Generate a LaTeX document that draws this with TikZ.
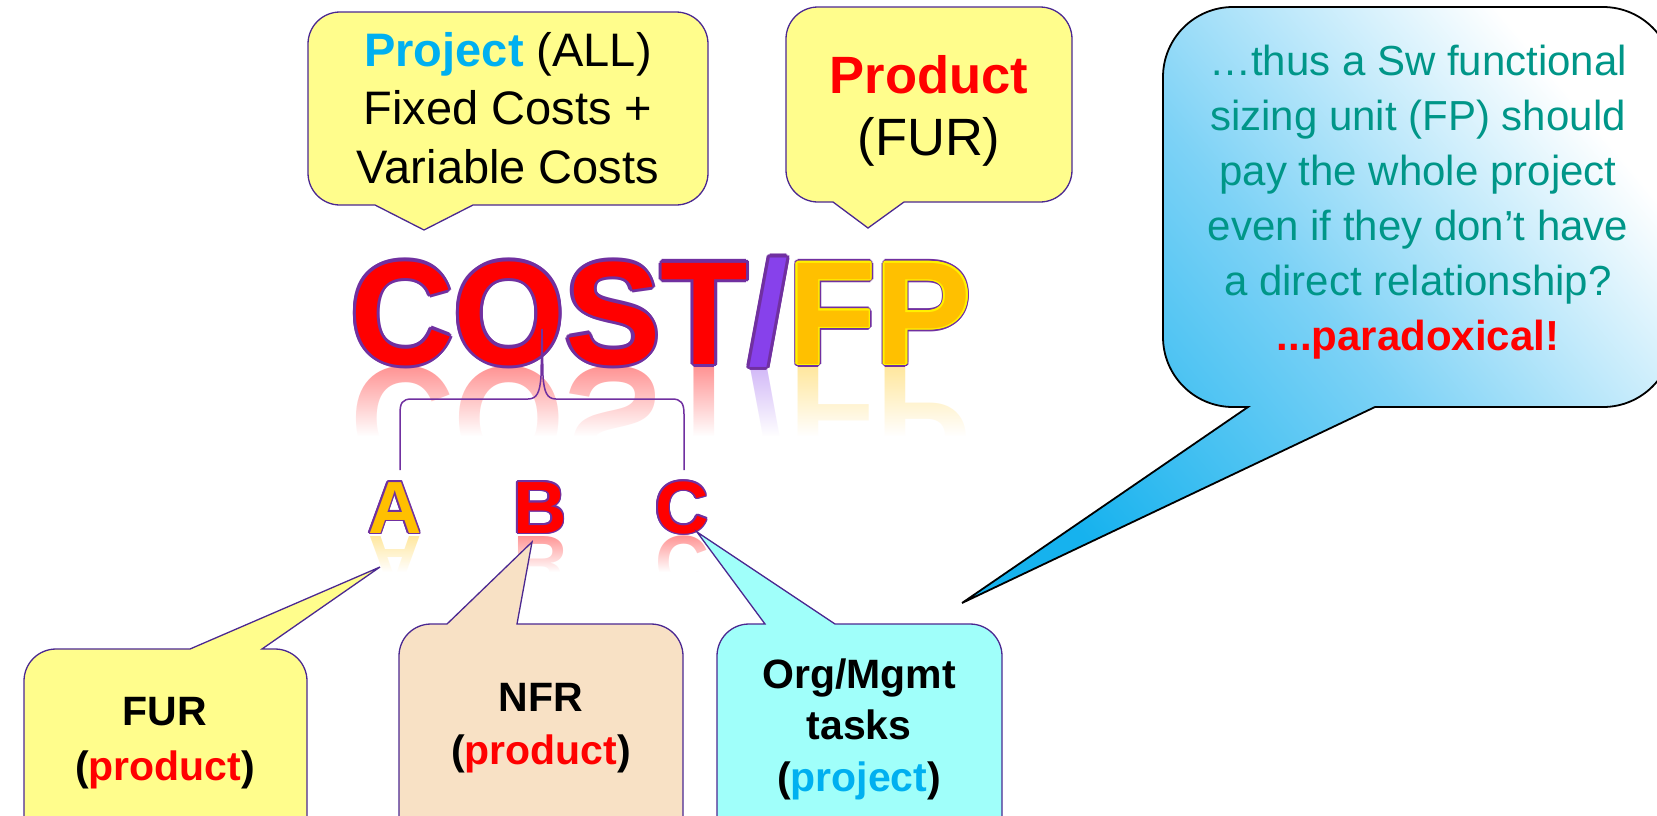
\documentclass[tikz,border=0pt]{standalone}
\usepackage{fontspec}
\setmainfont{Liberation Sans}
\usetikzlibrary{calc,fadings}

\definecolor{edge}{RGB}{75,40,145}
\definecolor{wapurple}{RGB}{112,48,160}
\definecolor{slashfill}{RGB}{135,65,235}
\definecolor{slashedge}{RGB}{85,30,150}
\definecolor{fporange}{RGB}{255,192,0}
\definecolor{pblue}{RGB}{0,176,240}
\definecolor{tealtxt}{RGB}{0,150,136}
\definecolor{notey}{RGB}{255,253,140}
\definecolor{notepeach}{RGB}{248,225,197}
\definecolor{notecyan}{RGB}{160,255,250}
\definecolor{skyA}{RGB}{22,178,238}
\definecolor{skyB}{RGB}{125,210,246}

% fade used to dissolve the mirrored letters into the page
\tikzfading[name=reflfade, top color=transparent!85, bottom color=transparent!0]

% rounded box with a pointer on its lower edge:
% x1 y1 x2 y2 radius, pointer base left/right, pointer tip x y
\newcommand{\calloutB}[9]{(#1,#2+#5) arc[start angle=180,end angle=270,radius=#5]
  -- (#3-#5,#2) arc[start angle=270,end angle=360,radius=#5]
  -- (#3,#4-#5) arc[start angle=0,end angle=90,radius=#5]
  -- (#7,#4) -- (#8,#9) -- (#6,#4)
  -- (#1+#5,#4) arc[start angle=90,end angle=180,radius=#5] -- cycle}
% same with the pointer on the upper edge
\newcommand{\calloutT}[9]{(#1,#2+#5) arc[start angle=180,end angle=270,radius=#5]
  -- (#6,#2) -- (#8,#9) -- (#7,#2)
  -- (#3-#5,#2) arc[start angle=270,end angle=360,radius=#5]
  -- (#3,#4-#5) arc[start angle=0,end angle=90,radius=#5]
  -- (#1+#5,#4) arc[start angle=90,end angle=180,radius=#5] -- cycle}
% ring of offset copies giving letters an outline
% #1 node options, #2 point, #3 offset, #4 colour, #5 text, #6 name prefix
\newcommand{\ringtext}[6]{\foreach \k in {0,30,...,330}{%
  \node[inner sep=0,text=#4,#1] (#6\k) at ($#2+(\k:#3)$) {#5};}}

\tikzset{
  bubble/.style={draw=edge, line width=1.3},
  txt/.style={align=center, inner sep=0, anchor=base},
  brace/.style={draw=wapurple, line width=1.5},
}

\begin{document}
\begin{tikzpicture}[x=1pt, y=-1pt]
\useasboundingbox (0,0) rectangle (1657,815);
\clip (0,0) rectangle (1657,815);

\def\bigfont{\fontsize{147}{147}\selectfont\bfseries}
\def\letfont{\fontsize{74}{74}\selectfont\bfseries}

% ---- mirrored letters (reflections) ----
\node[inner sep=0, anchor=base west, font=\bigfont] (wordrefl) at (350,367)
  {\scalebox{0.975}[-1]{\textcolor{red!50}{COST}\textcolor{slashfill!45}{/}\textcolor{fporange!45}{FP}}};
\fill[white, path fading=reflfade] (335,366) rectangle (990,436);
\fill[white] (335,436) rectangle (990,478);

\node[inner sep=0, anchor=base, font=\letfont, text=fporange!45] (Arefl) at (395,536) {\scalebox{1}[-1]{A}};
\node[inner sep=0, anchor=base, font=\letfont, text=red!50] (Brefl) at (540,536) {\scalebox{1}[-1]{B}};
\node[inner sep=0, anchor=base, font=\letfont, text=red!50] (Crefl) at (682,536) {\scalebox{1}[-1]{C}};
\fill[white, path fading=reflfade] (355,535) rectangle (720,572);
\fill[white] (355,572) rectangle (720,600);

% ---- COST/FP word ----
\ringtext{anchor=base west,font=\bigfont}{(350,364)}{3.2}{wapurple}{\scalebox{0.975}[1]{COST/FP}}{wo}
\ringtext{anchor=base west,font=\bigfont}{(350,364)}{1.8}{yellow}{\scalebox{0.975}[1]{\phantom{COST/}FP}}{wy}
\node[inner sep=0, anchor=base west, font=\bigfont] (word) at (350,364)
  {\scalebox{0.975}[1]{\textcolor{red}{COST}\textcolor{slashfill}{/}\textcolor{fporange}{FP}}};

% ---- letters A B C ----
\ringtext{anchor=base,font=\letfont}{(395,533)}{1.6}{wapurple}{A}{ao}
\ringtext{anchor=base,font=\letfont}{(540,533)}{1.6}{wapurple}{B}{bo}
\ringtext{anchor=base,font=\letfont}{(682,533)}{1.6}{wapurple}{C}{co}
\node[inner sep=0, anchor=base, font=\letfont, text=fporange] (A) at (395,533) {A};
\node[inner sep=0, anchor=base, font=\letfont, text=red] (B) at (540,533) {B};
\node[inner sep=0, anchor=base, font=\letfont, text=red] (C) at (682,533) {C};

% ---- brace from A and C up into COST ----
\coordinate (brL) at (400,470);
\coordinate (brR) at (684,470);
\coordinate (brTip) at (542,329);
\draw[brace] (brL) -- (400,414) .. controls (400,403) and (402,399) .. (412,399)
  -- (528,399) .. controls (537,399) and (540,392) .. (541,376) -- (brTip)
  -- (543,376) .. controls (544,392) and (547,399) .. (556,399)
  -- (672,399) .. controls (681,399) and (684,403) .. (684,414) -- (brR);

% ---- upper callouts ----
\draw[bubble, fill=notey] \calloutB{308}{12}{708}{205}{32}{375}{473}{424}{230};
\draw[bubble, fill=notey] \calloutB{786}{7}{1072}{202}{32}{833}{904}{868}{228};

% multi-line nodes are anchored at the baseline of their last line
\node[txt, font=\fontsize{47}{58.5}\selectfont] (projtxt) at (508,183)
  {\textbf{\textcolor{pblue}{Project}} (ALL)\\Fixed Costs +\\Variable Costs};
\node[txt, font=\fontsize{52.5}{62}\selectfont] (prodtxt) at (929,155)
  {\textbf{\textcolor{red}{Product}}\\(FUR)};

% ---- large question callout ----
\shade[draw=black, line width=1.8, bottom color=skyA, top color=white, middle color=skyB, shading angle=-50]
  \calloutB{1163}{7}{1673}{407}{70}{1248}{1375}{962}{603};
\node[txt, font=\fontsize{42}{55}\selectfont, text=tealtxt] (note) at (1418,350)
  {…thus a Sw functional\\sizing unit (FP) should\\pay the whole project\\even if they don’t have\\a direct relationship?\\\textbf{\textcolor{red}{...paradoxical!}}};

% ---- lower callouts ----
\draw[bubble, fill=notey] \calloutT{24}{649}{307}{860}{32}{190}{262}{380}{567};
\draw[bubble, fill=notepeach] \calloutT{399}{624}{683}{860}{32}{447}{517}{532}{542};
\draw[bubble, fill=notecyan] \calloutT{717}{624}{1002}{860}{32}{765}{835}{697}{532};

\node[txt, font=\fontsize{41}{55}\selectfont\bfseries] (furtxt) at (165,780)
  {FUR\\(\textcolor{red}{product})};
\node[txt, font=\fontsize{41}{53}\selectfont\bfseries] (nfrtxt) at (541,764)
  {NFR\\(\textcolor{red}{product})};
\node[txt, font=\fontsize{41}{51.5}\selectfont\bfseries] (orgtxt) at (859,791)
  {Org/Mgmt\\tasks\\(\textcolor{pblue}{project})};
\end{tikzpicture}
\end{document}
